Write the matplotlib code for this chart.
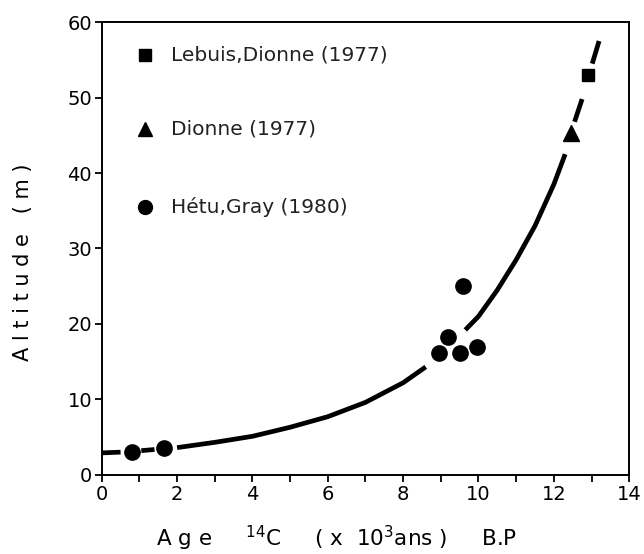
import matplotlib
matplotlib.use("Agg")
import matplotlib.pyplot as plt

# Data
square_x = [12.9]
square_y = [53.0]
triangle_x = [12.45]
triangle_y = [45.3]
circle_x = [0.8, 1.65, 8.95, 9.2, 9.5, 9.95, 9.6]
circle_y = [3.0, 3.5, 16.2, 18.2, 16.2, 17.0, 25.0]

# Fitted curve, drawn as broken segments
curve_segments = [
    ([0.0, 0.5], [2.9, 3.0]),
    ([1.05, 1.4], [3.2, 3.35]),
    ([2.0, 3.0, 4.0, 5.0, 6.0, 7.0, 8.0, 8.6],
     [3.6, 4.3, 5.1, 6.3, 7.7, 9.6, 12.2, 14.3]),
    ([9.65, 10.0, 10.5, 11.0, 11.5, 12.0, 12.3],
     [19.2, 21.0, 24.5, 28.5, 33.0, 38.5, 42.5]),
    ([12.55, 12.75], [46.8, 49.8]),
    ([13.02, 13.2], [54.5, 57.5]),
]

legend_labels = ["Lebuis,Dionne (1977)", "Dionne (1977)", "Hétu,Gray (1980)"]

xticks = [0, 2, 4, 6, 8, 10, 12, 14]
yticks = [0, 10, 20, 30, 40, 50, 60]

plt.rcParams['font.family'] = ['DejaVu Sans']
fig = plt.figure(figsize=(6.44, 5.54), dpi=100)
ax = fig.add_axes([0.158, 0.143, 0.819, 0.817])

for sx, sy in curve_segments:
    ax.plot(sx, sy, color='black', lw=3.4, solid_capstyle='butt')

ax.plot(circle_x, circle_y, 'o', color='black', ms=11)
ax.plot(triangle_x, triangle_y, '^', color='black', ms=11)
ax.plot(square_x, square_y, 's', color='black', ms=8.5)

# manual legend
leg_y = [55.6, 45.8, 35.5]
leg_m = ['s', '^', 'o']
leg_ms = [8, 10, 10]
for yy, m, ms, lab in zip(leg_y, leg_m, leg_ms, legend_labels):
    ax.plot([1.14], [yy], m, color='black', ms=ms)
    ax.text(1.85, yy, lab, fontsize=14.5, va='center', ha='left', color='#222222')

ax.set_xlim(0, 14)
ax.set_ylim(0, 60)
ax.set_xticks(xticks)
ax.set_xticklabels([str(v) for v in xticks], fontsize=14)
ax.set_xticks(range(1, 14, 2), minor=True)
ax.set_yticks(yticks)
ax.set_yticklabels([str(v) for v in yticks], fontsize=14)
ax.tick_params(axis='both', direction='out', length=5, width=1.3, pad=2)
ax.tick_params(axis='x', which='minor', direction='out', length=5, width=1.3)
for s in ax.spines.values():
    s.set_linewidth(1.4)

ax.set_xlabel("A g e     $^{14}$C     ( x  10$^{3}$ans )     B.P", fontsize=15.5)
ax.xaxis.set_label_coords(0.445, -0.108)
ax.set_ylabel("A l t i t u d e   ( m )", fontsize=15)
ax.yaxis.set_label_coords(-0.13, 0.47)

fig.savefig("out.png", dpi=100)
